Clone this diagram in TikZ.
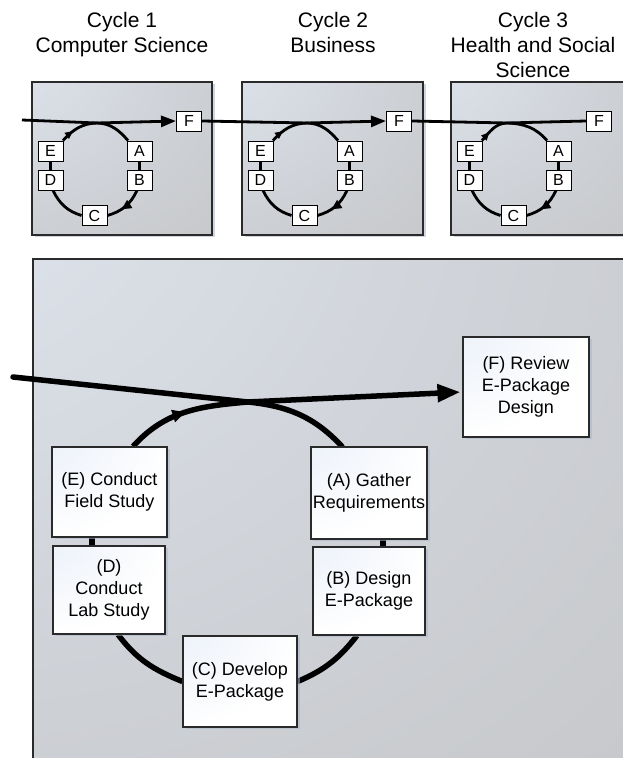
\documentclass[tikz,border=0pt]{standalone}
\usepackage{fontspec}
\setmainfont{Liberation Sans}
\usetikzlibrary{arrows.meta,shadows,decorations.markings}

\definecolor{panelhi}{HTML}{E4EBF5}
\definecolor{panelmid}{HTML}{CED1D6}
\definecolor{panello}{HTML}{BFBFBF}
\definecolor{boxhi}{HTML}{E4EBF7}
\definecolor{shadowblue}{HTML}{A8B6CB}
\definecolor{edge}{HTML}{2A2A2A}

% soft highlight in the upper left corner of panels and boxes
\pgfdeclareradialshading{panelshade}{\pgfpoint{-45bp}{45bp}}{%
  color(0bp)=(panelhi); color(48bp)=(panelmid); color(95bp)=(panello); color(150bp)=(panello)}
\pgfdeclareradialshading{boxshade}{\pgfpoint{-45bp}{45bp}}{%
  color(0bp)=(boxhi); color(55bp)=(white); color(150bp)=(white)}

\pgfdeclarelayer{panels}
\pgfdeclarelayer{flows}
\pgfsetlayers{panels,flows,main}

\tikzset{
  softshadow/.style={drop shadow={shadow xshift=2.5pt,shadow yshift=-2.5pt,fill=shadowblue,opacity=0.55}},
  panel/.style={draw=edge, line width=1.3pt, shade, shading=panelshade, softshadow},
  stage/.style={draw=edge, line width=1.1pt, shade, shading=boxshade, inner sep=2pt,
    align=center, font=\fontsize{18}{22}\selectfont, softshadow},
  ministage/.style={draw=black, line width=0.9pt, fill=white, minimum width=25pt,
    minimum height=20pt, inner sep=0pt, font=\fontsize{16}{16}\selectfont},
  bigflow/.style={line width=5.5pt, black},
  miniflow/.style={line width=2.8pt, black},
  title/.style={align=center, font=\fontsize{21}{25}\selectfont, anchor=north, inner sep=0pt},
  bigmid/.style={postaction={decorate, decoration={markings,
    mark=at position #1 with {\arrow{Triangle[length=13pt,width=12pt]}}}}},
  minimid/.style={postaction={decorate, decoration={markings,
    mark=at position #1 with {\arrow{Triangle[length=8pt,width=7pt]}}}}},
  minibig/.style={postaction={decorate, decoration={markings,
    mark=at position #1 with {\arrow{Triangle[length=10pt,width=9pt]}}}}},
}

\begin{document}
\begin{tikzpicture}[x=1pt,y=1pt]
\useasboundingbox (0,0) rectangle (622,758);
\begin{pgfonlayer}{panels}
  \fill[white] (0,0) rectangle (622,758);
\end{pgfonlayer}

% titles of the three cycles
\node[title] (t1) at (122,746) {Cycle 1\\Computer Science};
\node[title] (t2) at (333,746) {Cycle 2\\Business};
\node[title] (t3) at (533,746) {Cycle 3\\Health and Social\\Science};

% three small cycle panels
\foreach \i/\dx/\fx/\pr/\cx in {1/0/189/212/97, 2/210/189/213/97, 3/419/180/213/88}{
  \begin{scope}[shift={(\dx,0)}]
    \begin{pgfonlayer}{panels}
      \path[panel] (32,523) rectangle (\pr,676);
    \end{pgfonlayer}
    \node[ministage] (a\i) at (139.5,607) {A};
    \node[ministage] (b\i) at (139.5,578) {B};
    \node[ministage] (c\i) at (94.5,542.5) {C};
    \node[ministage] (d\i) at (50.5,578) {D};
    \node[ministage] (e\i) at (50.5,607) {E};
    \node[ministage] (f\i) at (\fx,637) {F};
    \coordinate (x\i) at (\cx,635);
  \end{scope}
}
\coordinate (start1) at (22,638);

% large panel with the detailed cycle
\begin{pgfonlayer}{panels}
  \path[panel] (33,-4) rectangle (628,499);
\end{pgfonlayer}

\node[stage, minimum width=115pt, minimum height=90pt] (E) at (109.5,266) {(E) Conduct\\Field Study};
\node[stage, minimum width=112pt, minimum height=88pt] (D) at (109,168) {(D)\\Conduct\\Lab Study};
\node[stage, minimum width=116pt, minimum height=92pt] (A) at (369,265) {(A) Gather\\Requirements};
\node[stage, minimum width=112pt, minimum height=88pt] (B) at (369,167) {(B) Design\\E-Package};
\node[stage, minimum width=114pt, minimum height=91pt] (C) at (240,76.5) {(C) Develop\\E-Package};
\node[stage, minimum width=126pt, minimum height=100pt] (F) at (526,371) {(F) Review\\E-Package\\Design};
\coordinate (Xm) at (248,356);
\coordinate (inm) at (13,381);

\begin{pgfonlayer}{flows}
  % small cycles
  \foreach \i in {1,2,3}{
    \draw[miniflow, minimid=0.35] ([xshift=12.5pt]e\i.north) to[out=48,in=182] (x\i);
    \draw[miniflow] (a\i.south) -- (b\i.north);
    \draw[miniflow, minibig=0.62] ([xshift=-2.5pt]b\i.south) to[out=-115,in=16] (c\i.east);
    \draw[miniflow] (c\i.west) to[out=163,in=-64] ([xshift=2.5pt]d\i.south);
    \draw[miniflow] (d\i.north) -- (e\i.south);
  }
  \draw[miniflow, -{Triangle[length=15pt,width=11pt]}] (x1) -- (f1.west);
  \draw[miniflow, -{Triangle[length=15pt,width=11pt]}] (x2) -- (f2.west);
  \draw[miniflow] (x3) -- (f3.west);
  \draw[miniflow] (start1) -- (x1) to[out=-2,in=131] ([xshift=-11.5pt]a1.north);
  \draw[miniflow] (f1.east) -- (x2) to[out=-2,in=131] ([xshift=-11.5pt]a2.north);
  \draw[miniflow] (f2.east) -- (x3) to[out=-2,in=131] ([xshift=-11.5pt]a3.north);

  % detailed cycle
  \draw[bigflow, line cap=round] (inm) -- (Xm) to[out=-6,in=133] ([xshift=-27pt]A.north);
  \draw[bigflow, bigmid=0.5] ([xshift=23.5pt]E.north) to[out=48,in=185] (Xm);
  \draw[bigflow, -{Triangle[length=23pt,width=17pt]}, shorten >=2pt] (Xm) -- ([yshift=-5pt]F.west);
  \draw[bigflow] ([xshift=14pt]A.south) -- ([xshift=14pt]A.south |- B.north);
  \draw[bigflow] ([xshift=-12pt]B.south) to[out=-128,in=23] (C.east);
  \draw[bigflow] (C.west) to[out=158,in=-53] ([xshift=9pt]D.south);
  \draw[bigflow] ([xshift=-17pt]D.north) -- ([xshift=-17pt]D.north |- E.south);
\end{pgfonlayer}
\end{tikzpicture}
\end{document}
